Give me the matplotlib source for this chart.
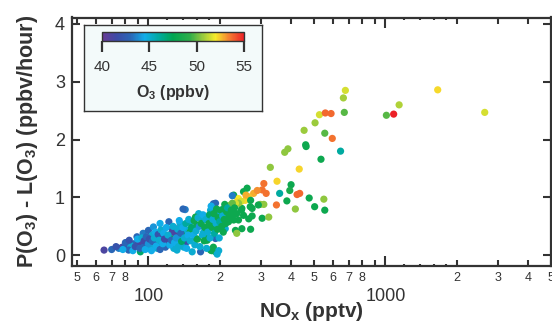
import matplotlib
matplotlib.use("Agg")
import matplotlib.pyplot as plt
import numpy as np
from matplotlib.colors import LinearSegmentedColormap
from matplotlib.ticker import FixedLocator, FixedFormatter

plt.rcParams['font.family'] = ['Liberation Sans', 'DejaVu Sans']
plt.rcParams['mathtext.fontset'] = 'custom'
plt.rcParams['mathtext.rm'] = 'Liberation Sans'
plt.rcParams['mathtext.bf'] = 'Liberation Sans:bold'
plt.rcParams['mathtext.it'] = 'Liberation Sans:italic'

# ---------------- data (NOx pptv, P(O3)-L(O3) ppbv/h, O3 ppbv) ----------------
nox = [
    # sparse high points
    678, 665, 527, 558, 590, 671, 505, 454, 555, 597,
    461, 463, 388, 376, 647, 535, 1010, 1084, 1143, 1663,
    2626, 433, 327, 349, 400, 395, 358, 424, 435, 347,
    384, 417, 477, 503, 550, 555, 307, 302, 314, 278,
    265, 256, 261, 252, 297, 307, 269, 248, 274, 302,
    322,
    # yellow/orange/green upper cluster
    229, 240, 246, 236, 258, 288, 240, 233, 222, 247,
    274, 291, 270, 225, 240, 248, 270, 233, 236, 222,
    215, 236, 252, 229, 265, 226, 188,
    # mid cluster
    207, 204, 195, 192, 183, 171, 163, 158, 143, 150,
    160, 136, 130, 126, 132, 141, 146, 150, 171, 177,
    201, 211, 207, 218, 215, 188, 174, 177, 192, 158,
    136, 130, 143, 188, 183, 192, 166, 153, 132, 141,
    140, 183, 198, 185, 195,
    # low-x cluster
    65, 70, 75, 77.5, 80, 87, 85, 92.5, 89.5, 95,
    100, 105, 112, 122, 126, 124, 130, 109, 102, 95,
    109, 118, 128, 120, 114, 104, 99, 91, 84, 82.5,
    118, 145,
    # fill
    73, 78, 80, 83, 86, 88, 90, 92, 94, 96,
    97, 98, 100, 101, 103, 104, 106, 107, 108, 110,
    111, 112, 113, 115, 116, 117, 119, 121, 123, 125,
    127, 129, 131, 133, 134, 135, 137, 138, 140, 142,
    144, 145, 147, 148, 150, 152, 155, 156, 157, 159,
    161, 162, 164, 165, 167, 169, 170, 172, 173, 175,
    176, 178, 180, 181, 182, 184, 186, 187, 189, 190,
    193, 194, 196, 197, 199, 200, 202, 204, 206, 209,
    210, 212, 214, 216, 219, 221, 224, 226, 228, 231,
]
rate = [
    2.85, 2.72, 2.43, 2.46, 2.45, 2.47, 2.29, 2.16, 2.11, 2.02,
    1.91, 1.88, 1.84, 1.78, 1.80, 1.66, 2.42, 2.44, 2.60, 2.86,
    2.47, 1.49, 1.52, 1.28, 1.22, 1.12, 1.07, 1.05, 1.07, 0.87,
    0.94, 0.80, 0.99, 0.84, 0.97, 0.78, 1.24, 1.13, 1.07, 1.07,
    1.01, 0.95, 1.16, 1.10, 0.88, 0.88, 0.84, 0.81, 0.68, 0.64,
    0.66,
    1.04, 0.98, 0.93, 0.92, 1.04, 1.12, 0.90, 0.90, 0.75, 0.78,
    0.81, 0.87, 0.95, 0.81, 0.61, 0.46, 0.45, 0.43, 0.38, 0.87,
    0.77, 0.72, 0.69, 0.61, 0.63, 1.03, 0.89,
    0.80, 0.72, 0.72, 0.90, 0.66, 0.61, 0.72, 0.66, 0.79, 0.58,
    0.52, 0.55, 0.46, 0.40, 0.35, 0.40, 0.43, 0.40, 0.40, 0.46,
    0.49, 0.46, 0.40, 0.58, 0.66, 0.55, 0.35, 0.26, 0.29, 0.29,
    0.29, 0.20, 0.20, 0.14, 0.09, 0.06, 0.06, 0.06, 0.09, 0.14,
    0.80, 0.78, 0.08, 0.08, 0.02,
    0.09, 0.10, 0.12, 0.14, 0.17, 0.20, 0.12, 0.06, 0.32, 0.38,
    0.43, 0.49, 0.55, 0.58, 0.46, 0.29, 0.38, 0.20, 0.14, 0.17,
    0.12, 0.14, 0.12, 0.23, 0.32, 0.35, 0.23, 0.23, 0.17, 0.09,
    0.23, 0.24,
    0.15, 0.10, 0.22, 0.26, 0.08, 0.15, 0.28, 0.12, 0.30, 0.25,
    0.10, 0.32, 0.20, 0.28, 0.08, 0.24, 0.30, 0.40, 0.16, 0.36,
    0.26, 0.10, 0.44, 0.20, 0.38, 0.28, 0.48, 0.35, 0.18, 0.26,
    0.50, 0.22, 0.30, 0.45, 0.15, 0.60, 0.38, 0.24, 0.48, 0.30,
    0.55, 0.12, 0.35, 0.62, 0.25, 0.48, 0.35, 0.60, 0.18, 0.42,
    0.28, 0.65, 0.50, 0.15, 0.55, 0.35, 0.70, 0.25, 0.48, 0.62,
    0.12, 0.40, 0.55, 0.70, 0.30, 0.85, 0.48, 0.62, 0.72, 0.38,
    0.55, 0.80, 0.45, 0.65, 0.30, 0.58, 0.78, 0.50, 0.68, 0.62,
    0.88, 0.55, 0.75, 0.82, 0.70, 0.65, 0.78, 0.90, 0.70, 0.82,
]
o3 = [
    51.5, 50.8, 51.5, 53.8, 53.8, 49.8, 50.7, 50.7, 49.8, 53.6,
    48.0, 48.0, 50.5, 50.5, 46.0, 48.0, 49.8, 55.0, 51.0, 52.2,
    51.5, 52.3, 50.5, 52.3, 48.0, 48.5, 46.0, 53.8, 53.8, 53.6,
    48.0, 50.5, 48.0, 48.0, 50.5, 48.0, 53.6, 53.6, 53.6, 52.8,
    52.5, 52.3, 48.0, 48.0, 50.5, 50.5, 48.0, 48.0, 48.0, 48.0,
    50.5,
    48.0, 52.0, 51.5, 52.3, 52.8, 53.2, 50.5, 51.5, 54.0, 48.0,
    48.0, 48.0, 48.0, 48.0, 48.0, 48.0, 48.0, 48.0, 50.5, 50.5,
    48.0, 48.0, 48.0, 48.0, 48.0, 43.5, 43.0,
    46.0, 48.0, 45.0, 43.0, 48.0, 45.0, 45.0, 48.0, 43.5, 45.0,
    48.0, 45.0, 43.0, 41.0, 41.5, 48.0, 45.0, 48.0, 45.0, 48.0,
    41.0, 45.0, 48.0, 48.0, 45.5, 48.0, 48.0, 48.0, 43.0, 48.0,
    45.0, 45.0, 43.0, 48.0, 48.0, 48.0, 43.0, 45.0, 45.0, 45.0,
    43.0, 45.0, 45.0, 48.0, 45.0,
    41.0, 43.0, 43.5, 41.0, 42.5, 43.0, 45.0, 47.0, 43.0, 43.5,
    43.0, 44.0, 44.5, 43.0, 41.0, 48.0, 41.0, 41.0, 45.0, 43.0,
    45.0, 43.0, 45.0, 45.0, 43.0, 45.0, 45.0, 41.0, 45.0, 43.0,
    41.0, 41.5,
    42.0, 44.5, 43.0, 42.0, 44.5, 42.0, 44.5, 43.0, 45.0, 41.5,
    44.5, 43.0, 44.0, 42.0, 44.5, 43.0, 45.0, 44.5, 44.5, 42.0,
    45.0, 43.0, 45.0, 44.5, 44.5, 41.5, 44.5, 45.0, 44.5, 43.0,
    45.0, 44.5, 44.0, 45.0, 45.0, 44.5, 43.0, 47.0, 44.5, 45.0,
    46.0, 44.5, 44.5, 45.0, 45.0, 47.0, 44.5, 48.0, 45.0, 45.0,
    48.0, 45.0, 44.0, 45.0, 48.0, 45.0, 44.5, 48.0, 48.0, 45.0,
    45.0, 45.0, 48.0, 47.0, 45.0, 44.5, 48.0, 45.0, 48.0, 46.0,
    45.0, 48.0, 48.0, 48.0, 45.0, 46.0, 48.0, 48.0, 45.0, 48.0,
    48.0, 48.0, 48.0, 46.0, 48.0, 48.0, 48.0, 50.0, 48.0, 48.0,
]

cbar_ticks = [40, 45, 50, 55]
major_x = [100, 1000]
minor_x = [50, 60, 70, 80, 90, 200, 300, 400, 500, 600, 700, 800, 900,
           2000, 3000, 4000, 5000]
minor_x_labels = ['5', '6', '7', '8', '', '2', '3', '4', '5', '6', '7', '8', '',
                  '2', '3', '4', '5']
sub_minor_x = [120, 140, 160, 180, 1200, 1400, 1600, 1800]

# ---------------- colormap ----------------
anchors = [
    (40.0, '#6a3a95'), (41.5, '#3d4aa6'), (43.0, '#2a66b6'), (44.5, '#10ade9'),
    (46.0, '#00aaa0'), (47.5, '#00a651'), (49.3, '#2eae4a'), (50.5, '#8dc63f'),
    (52.0, '#f6eb2a'), (53.5, '#f47b30'), (55.0, '#ec2127'),
]
cmap = LinearSegmentedColormap.from_list(
    'o3', [((v - 40) / 15.0, c) for v, c in anchors])

dark = '#333333'
fig = plt.figure(figsize=(5.52, 3.24), dpi=100)
ax = fig.add_axes([72 / 552, 1 - 266 / 324, 479 / 552, 248.5 / 324])

sc = ax.scatter(nox, rate, c=o3, cmap=cmap, vmin=40, vmax=55, s=27,
                linewidths=0, zorder=3)
ax.set_xscale('log')
ax.set_xlim(47.6, 5000)
ax.set_ylim(-0.185, 4.11)

for sp in ax.spines.values():
    sp.set_linewidth(1.6)
    sp.set_color(dark)

ax.xaxis.set_major_locator(FixedLocator(major_x))
ax.xaxis.set_major_formatter(FixedFormatter(['100', '1000']))
ax.xaxis.set_minor_locator(FixedLocator(minor_x))
ax.xaxis.set_minor_formatter(FixedFormatter(minor_x_labels))
ax.set_yticks([0, 1, 2, 3, 4])

ax.tick_params(axis='both', which='both', direction='in', top=True, right=True,
               color=dark, labelcolor=dark, width=1.5)
ax.tick_params(axis='x', which='major', length=7, labelsize=13, pad=16)
ax.tick_params(axis='x', which='minor', length=4, labelsize=9, pad=4.5)
ax.tick_params(axis='y', which='major', length=6, labelsize=13, pad=5)
ax.tick_params(axis='y', which='minor', left=False, right=False)

trans = ax.get_xaxis_transform()
ax.vlines(sub_minor_x, 0, 0.009, transform=trans, colors=dark, lw=1.5, clip_on=False)
ax.vlines(sub_minor_x, 0.991, 1, transform=trans, colors=dark, lw=1.5, clip_on=False)

ax.set_xlabel('NO$_\\mathbf{x}$ (pptv)', fontsize=15, fontweight='bold', color=dark)
ax.xaxis.set_label_coords(0.5, -0.138)
ax.set_ylabel('P(O$_\\mathbf{3}$) - L(O$_\\mathbf{3}$) (ppbv/hour)', fontsize=15.5,
              fontweight='bold', color=dark)
ax.yaxis.set_label_coords(-0.066, 0.5)

# ---------------- colour bar legend box ----------------
box = fig.add_axes([84 / 552, 1 - 111 / 324, 178 / 552, 86 / 324])
box.set_facecolor('#f3fafa')
box.set_xticks([])
box.set_yticks([])
for sp in box.spines.values():
    sp.set_linewidth(1.0)
    sp.set_color(dark)
box.set_zorder(5)

cax = fig.add_axes([102 / 552, 1 - 41 / 324, 142 / 552, 9 / 324])
cax.set_zorder(6)
cb = fig.colorbar(sc, cax=cax, orientation='horizontal', ticks=cbar_ticks)
cb.outline.set_linewidth(1.0)
cb.outline.set_edgecolor(dark)
cax.tick_params(direction='out', length=8, width=1.6, color=dark,
                labelsize=11, labelcolor=dark, pad=6)
fig.text(173 / 552, 1 - 93 / 324, 'O$_\\mathbf{3}$ (ppbv)', ha='center', va='center',
         fontsize=11.5, fontweight='bold', color=dark, zorder=7)

fig.savefig('out.png', dpi=100)
